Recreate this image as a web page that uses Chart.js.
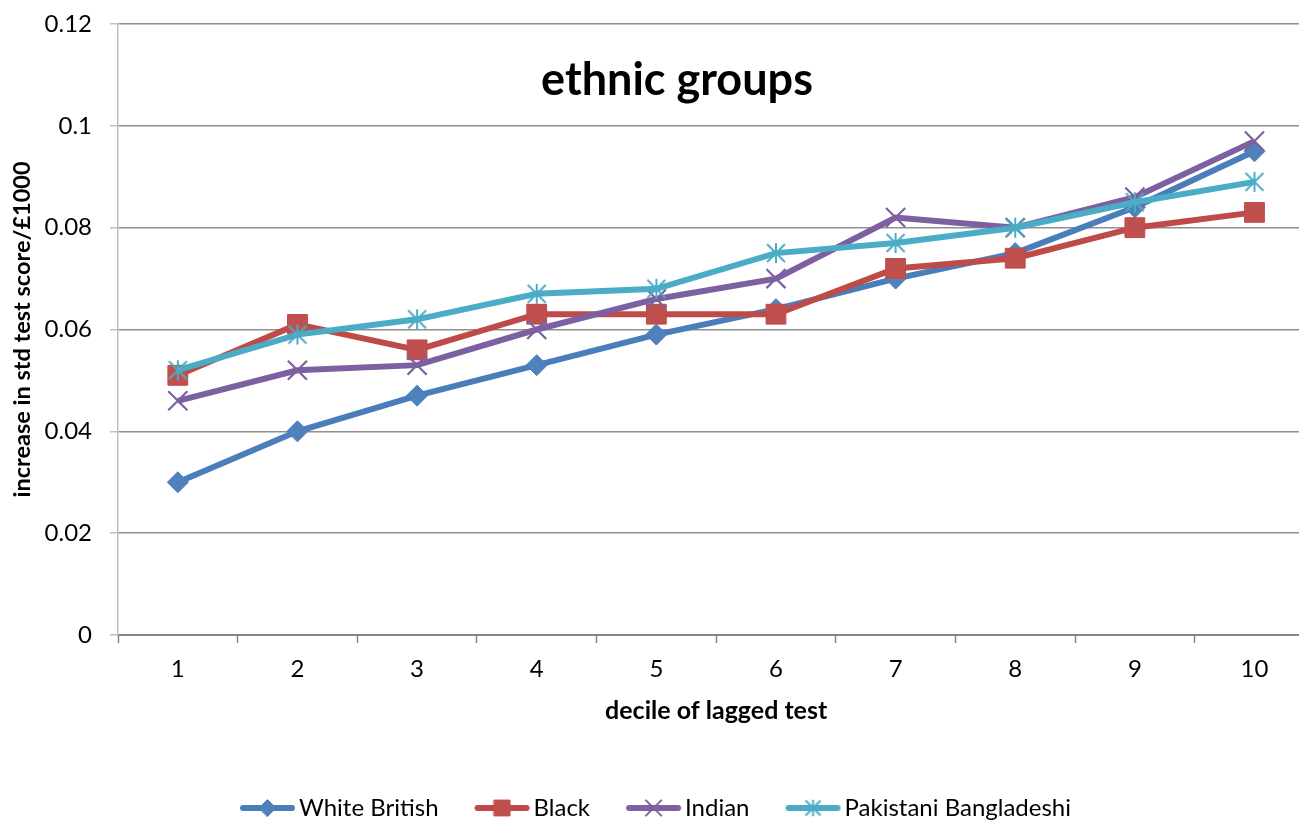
<!DOCTYPE html>
<html>
<head>
<meta charset="utf-8">
<title>ethnic groups</title>
<script src="https://cdn.jsdelivr.net/npm/chart.js@4.4.1/dist/chart.umd.min.js"></script>
<style>
  html, body { margin: 0; padding: 0; background: #ffffff; overflow: hidden; }
  #wrap { position: relative; width: 1330px; height: 830px; }
</style>
</head>
<body>
<div id="wrap"><canvas id="chart"></canvas></div>
<script>
// Deciles of the lagged test score
const deciles = ['1', '2', '3', '4', '5', '6', '7', '8', '9', '10'];

// Increase in standardised test score per £1000, by ethnic group
const whiteBritish = [0.030, 0.040, 0.047, 0.053, 0.059, 0.064, 0.070, 0.075, 0.084, 0.095];
const black        = [0.051, 0.061, 0.056, 0.063, 0.063, 0.063, 0.072, 0.074, 0.080, 0.083];
const indian       = [0.046, 0.052, 0.053, 0.060, 0.066, 0.070, 0.082, 0.080, 0.086, 0.097];
const pakBangla    = [0.052, 0.059, 0.062, 0.067, 0.068, 0.075, 0.077, 0.080, 0.085, 0.089];

const seriesNames = ['White British', 'Black', 'Indian', 'Pakistani Bangladeshi'];

// Value axis ticks
const yTicks = [0, 0.02, 0.04, 0.06, 0.08, 0.1, 0.12];

const FONT = 'Lato, "Open Sans", "DejaVu Sans", sans-serif';

const COLORS = {
  blue:   { line: '#4A7EBB', fill: '#4F81BD' },
  red:    { line: '#BE4B48', fill: '#C0504D' },
  purple: { line: '#7D60A0', fill: '#8064A2' },
  cyan:   { line: '#4BACC6', fill: '#4BACC6' }
};

// Asterisk marker: an X with a vertical stroke
function makeAsterisk(color, size, arm) {
  const c = document.createElement('canvas');
  c.width = size; c.height = size;
  const g = c.getContext('2d');
  const m = size / 2;
  g.strokeStyle = color;
  g.lineWidth = 2;
  g.beginPath();
  g.moveTo(m - arm, m - arm); g.lineTo(m + arm, m + arm);
  g.moveTo(m + arm, m - arm); g.lineTo(m - arm, m + arm);
  g.moveTo(m, m - arm * 1.1); g.lineTo(m, m + arm * 1.1);
  g.stroke();
  return c;
}

const asterisk = makeAsterisk(COLORS.cyan.line, 24, 9);
const asteriskSmall = makeAsterisk(COLORS.cyan.line, 20, 7.5);

// Point-style settings for each series (shared by the plot and the legend)
const markers = [
  { pointStyle: 'rectRot',  radius: 10.5, color: COLORS.blue },
  { pointStyle: 'rect',     radius: 14,   color: COLORS.red },
  { pointStyle: 'crossRot', radius: 13.5, color: COLORS.purple },
  { pointStyle: asterisk,   radius: 12,   color: COLORS.cyan, legendStyle: asteriskSmall }
];

// Legend key: a line segment with the marker in its middle, drawn in the
// right-hand part of a wider transparent canvas
const KEY_W = 98, KEY_H = 26, LINE_X0 = 42, LINE_X1 = 97;
function makeLegendKey(mk) {
  const c = document.createElement('canvas');
  c.width = KEY_W; c.height = KEY_H;
  const g = c.getContext('2d');
  const cy = KEY_H / 2;
  g.strokeStyle = mk.color.line;
  g.lineWidth = 6;
  g.lineCap = 'round';
  g.beginPath();
  g.moveTo(LINE_X0 + 3, cy); g.lineTo(LINE_X1 - 3, cy);
  g.stroke();
  g.fillStyle = mk.color.fill;
  g.strokeStyle = mk.color.line;
  const isCross = typeof mk.pointStyle === 'string' && mk.pointStyle.startsWith('cross');
  g.lineWidth = isCross ? 2 : 1;
  Chart.helpers.drawPoint(g, {
    pointStyle: mk.legendStyle || mk.pointStyle,
    radius: mk.radius * 0.8,
    rotation: 0,
    borderWidth: g.lineWidth
  }, (LINE_X0 + LINE_X1) / 2, cy);
  return c;
}

const seriesData = [whiteBritish, black, indian, pakBangla];

const datasets = seriesData.map((vals, i) => {
  const mk = markers[i];
  return {
    label: seriesNames[i],
    data: vals,
    borderColor: mk.color.line,
    backgroundColor: mk.color.fill,
    borderWidth: 6,
    pointStyle: mk.pointStyle,
    pointRadius: mk.radius,
    pointHoverRadius: mk.radius,
    pointBackgroundColor: mk.color.fill,
    pointBorderColor: mk.color.line,
    pointBorderWidth: (mk.pointStyle === 'crossRot') ? 2.2 : 1,
    tension: 0,
    fill: false,
    order: seriesData.length - 1 - i
  };
});

const legendKeys = markers.map(mk => makeLegendKey(mk));

// Chart title drawn inside the plot area
const innerTitle = {
  id: 'innerTitle',
  afterDraw(chart) {
    const ctx = chart.ctx;
    ctx.save();
    ctx.font = 'bold 45px ' + FONT;
    ctx.fillStyle = '#000000';
    ctx.textAlign = 'center';
    ctx.textBaseline = 'middle';
    ctx.fillText('ethnic groups', 677, 80);
    ctx.restore();
  }
};

const LEFT_SHIFT = -50;   // lets the centred legend sit a little further left

new Chart(document.getElementById('chart'), {
  type: 'line',
  data: { labels: deciles, datasets },
  options: {
    responsive: true,
    maintainAspectRatio: false,
    animation: false,
    devicePixelRatio: 1,
    layout: { padding: { left: LEFT_SHIFT, right: 2, top: 24, bottom: 0 } },
    plugins: {
      title: { display: false },
      tooltip: { enabled: false },
      legend: {
        display: true,
        position: 'bottom',
        align: 'center',
        labels: {
          font: { family: FONT, size: 24 },
          color: '#000000',
          usePointStyle: true,
          pointStyleWidth: 80,
          boxHeight: 24,
          padding: 3,
          generateLabels: () => seriesNames.map((name, i) => ({
            text: name,
            pointStyle: legendKeys[i],
            fillStyle: markers[i].color.fill,
            strokeStyle: markers[i].color.line,
            lineWidth: 0,
            hidden: false,
            datasetIndex: i
          }))
        }
      }
    },
    scales: {
      x: {
        type: 'category',
        offset: true,
        afterFit: s => { s.height = 158; s.paddingLeft = 0; s.paddingRight = 0; },
        grid: {
          offset: true,
          drawOnChartArea: false,
          drawTicks: true,
          tickLength: 8,
          tickColor: '#868686',
          tickWidth: 1.5
        },
        border: { display: true, color: '#868686', width: 2 },
        ticks: {
          font: { family: FONT, size: 24 },
          color: '#000000',
          padding: 12,
          maxRotation: 0
        },
        title: {
          display: true,
          text: 'decile of lagged test',
          font: { family: FONT, size: 25, weight: 'bold' },
          color: '#000000',
          padding: { top: 0, bottom: 67 }
        }
      },
      y: {
        min: 0,
        max: 0.12,
        afterFit: s => { s.width = 118 - LEFT_SHIFT; s.paddingTop = 0; s.paddingBottom = 0; },
        afterBuildTicks: s => { s.ticks = yTicks.map(v => ({ value: v })); },
        grid: {
          color: '#8f8f8f',
          lineWidth: 1.5,
          drawTicks: true,
          tickLength: 8,
          tickColor: '#bfbfbf'
        },
        border: { display: true, color: '#bfbfbf', width: 1.5 },
        ticks: {
          font: { family: FONT, size: 24 },
          color: '#000000',
          padding: 18,
          callback: v => String(parseFloat(Number(v).toFixed(2)))
        },
        title: {
          display: true,
          text: 'increase in std test score/£1000',
          font: { family: FONT, size: 23.5, weight: 'bold' },
          color: '#000000',
          padding: { top: 8 - LEFT_SHIFT, bottom: 0 }
        }
      }
    }
  },
  plugins: [innerTitle]
});
</script>
</body>
</html>
